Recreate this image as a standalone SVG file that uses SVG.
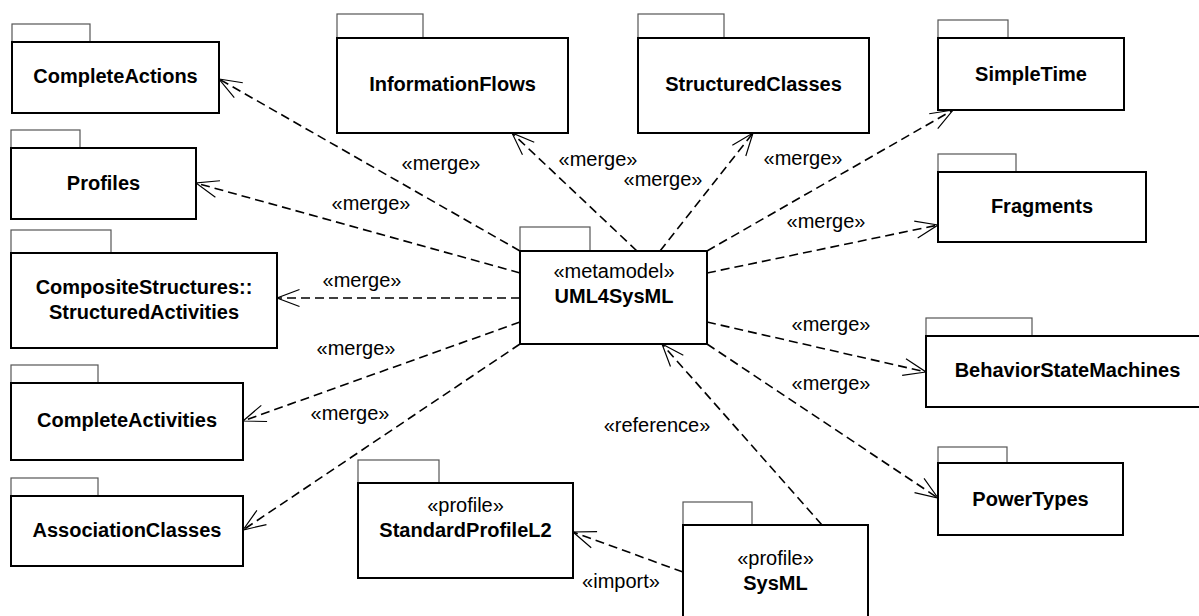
<svg xmlns="http://www.w3.org/2000/svg" width="1199" height="616" viewBox="0 0 1199 616">
<style>
.tab{fill:#fff;stroke:#555;stroke-width:1.2}
.body{fill:#fff;stroke:#000;stroke-width:2}
.t{font-family:"Liberation Sans",Arial,sans-serif;font-size:20px;text-anchor:middle;fill:#000}
.b{font-weight:bold}
.dep{fill:none;stroke:#000;stroke-width:1.6;stroke-dasharray:9,5;marker-end:url(#open)}
.lbl{font-family:"Liberation Sans",Arial,sans-serif;font-size:20px;text-anchor:middle;fill:#000}
</style>
<defs>
<marker id="open" markerUnits="userSpaceOnUse" markerWidth="30" markerHeight="30" viewBox="-24 -12 28 24" refX="0" refY="0" orient="auto">
<path d="M-21,-8 L0,0 L-21,8" fill="none" stroke="#000" stroke-width="1.1"/>
</marker>
</defs>
<rect width="1199" height="616" fill="#fff"/>
<g id="connectors">
<path class="dep" d="M520,251 L219,79"/>
<path class="dep" d="M520,273 L196,183"/>
<path class="dep" d="M520,298 L277,298"/>
<path class="dep" d="M520,322 L243,421"/>
<path class="dep" d="M520,344 L243,530"/>
<path class="dep" d="M637,251 L512,133"/>
<path class="dep" d="M660,251 L753,133"/>
<path class="dep" d="M707,251 L953,110"/>
<path class="dep" d="M707,273 L938,225"/>
<path class="dep" d="M707,322 L926,372"/>
<path class="dep" d="M707,344 L938,498"/>
<path class="dep" d="M822,525 L662,344"/>
<path class="dep" d="M683,572 L573,532"/>
<text class="lbl" x="441" y="170">«merge»</text>
<text class="lbl" x="371" y="210">«merge»</text>
<text class="lbl" x="362" y="287">«merge»</text>
<text class="lbl" x="356" y="355">«merge»</text>
<text class="lbl" x="350" y="420">«merge»</text>
<text class="lbl" x="598" y="166">«merge»</text>
<text class="lbl" x="663" y="186">«merge»</text>
<text class="lbl" x="803" y="165">«merge»</text>
<text class="lbl" x="826" y="228">«merge»</text>
<text class="lbl" x="831" y="331">«merge»</text>
<text class="lbl" x="831" y="390">«merge»</text>
<text class="lbl" x="657" y="432">«reference»</text>
<text class="lbl" x="621" y="588">«import»</text>
</g>
<g id="CompleteActions">
<rect class="tab" x="12" y="24" width="78" height="18"/>
<rect class="body" x="12" y="42" width="207" height="71"/>
<text class="t b" x="115.5" y="83">CompleteActions</text>
</g>
<g id="Profiles">
<rect class="tab" x="11" y="130" width="69" height="18"/>
<rect class="body" x="11" y="148" width="185" height="71"/>
<text class="t b" x="103.5" y="190">Profiles</text>
</g>
<g id="CompositeStructures">
<rect class="tab" x="11" y="230" width="100" height="23"/>
<rect class="body" x="11" y="253" width="266" height="95"/>
<text class="t b" x="144" y="294">CompositeStructures::</text>
<text class="t b" x="144" y="319">StructuredActivities</text>
</g>
<g id="CompleteActivities">
<rect class="tab" x="11" y="365" width="87" height="18"/>
<rect class="body" x="11" y="383" width="232" height="77"/>
<text class="t b" x="127" y="427">CompleteActivities</text>
</g>
<g id="AssociationClasses">
<rect class="tab" x="11" y="478" width="87" height="18"/>
<rect class="body" x="11" y="496" width="232" height="70"/>
<text class="t b" x="127" y="537">AssociationClasses</text>
</g>
<g id="InformationFlows">
<rect class="tab" x="337" y="14" width="86" height="24"/>
<rect class="body" x="337" y="38" width="231" height="95"/>
<text class="t b" x="452.5" y="91">InformationFlows</text>
</g>
<g id="StructuredClasses">
<rect class="tab" x="638" y="14" width="86" height="24"/>
<rect class="body" x="638" y="38" width="231" height="95"/>
<text class="t b" x="753.5" y="91">StructuredClasses</text>
</g>
<g id="SimpleTime">
<rect class="tab" x="938" y="20" width="70" height="18"/>
<rect class="body" x="938" y="38" width="186" height="72"/>
<text class="t b" x="1031" y="81">SimpleTime</text>
</g>
<g id="Fragments">
<rect class="tab" x="938" y="154" width="78" height="18"/>
<rect class="body" x="938" y="172" width="208" height="70"/>
<text class="t b" x="1042" y="213">Fragments</text>
</g>
<g id="BehaviorStateMachines">
<rect class="tab" x="926" y="318" width="106" height="18"/>
<rect class="body" x="926" y="336" width="282" height="71"/>
<text class="t b" x="1067.5" y="377">BehaviorStateMachines</text>
</g>
<g id="PowerTypes">
<rect class="tab" x="938" y="447" width="69" height="16"/>
<rect class="body" x="938" y="463" width="185" height="72"/>
<text class="t b" x="1030.5" y="506">PowerTypes</text>
</g>
<g id="UML4SysML">
<rect class="tab" x="520" y="227" width="70" height="24"/>
<rect class="body" x="520" y="251" width="187" height="93"/>
<text class="t" x="614" y="278">«metamodel»</text>
<text class="t b" x="614" y="303">UML4SysML</text>
</g>
<g id="StandardProfileL2">
<rect class="tab" x="358" y="460" width="81" height="23"/>
<rect class="body" x="358" y="483" width="215" height="95"/>
<text class="t" x="465.5" y="512">«profile»</text>
<text class="t b" x="465.5" y="537">StandardProfileL2</text>
</g>
<g id="SysML">
<rect class="tab" x="683" y="502" width="69" height="23"/>
<rect class="body" x="683" y="525" width="185" height="100"/>
<text class="t" x="775.5" y="565">«profile»</text>
<text class="t b" x="775.5" y="590">SysML</text>
</g>
</svg>
